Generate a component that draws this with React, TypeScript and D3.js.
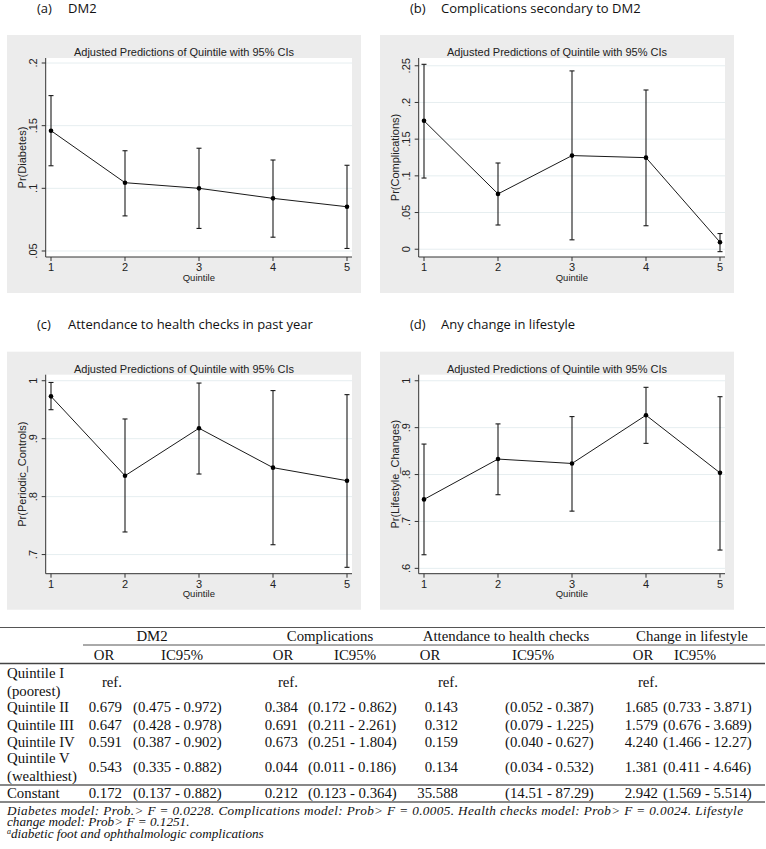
import React from 'react';
import * as d3 from 'd3';

// ---------- chart data ----------
const quintiles = [1, 2, 3, 4, 5];

const dm2Est = [0.146, 0.1045, 0.1, 0.092, 0.0853];
const dm2Lo = [0.118, 0.078, 0.068, 0.061, 0.052];
const dm2Hi = [0.174, 0.13, 0.132, 0.1226, 0.1184];
const dm2Ticks = [0.05, 0.1, 0.15, 0.2];
const dm2Domain = [0.0452, 0.204];

const compEst = [0.175, 0.0754, 0.1276, 0.1248, 0.0096];
const compLo = [0.097, 0.033, 0.0128, 0.032, -0.0033];
const compHi = [0.252, 0.1175, 0.243, 0.217, 0.0214];
const compTicks = [0, 0.05, 0.1, 0.15, 0.2, 0.25];
const compDomain = [-0.0106, 0.2606];

const checksEst = [0.973, 0.836, 0.918, 0.85, 0.8275];
const checksLo = [0.95, 0.739, 0.839, 0.717, 0.678];
const checksHi = [0.997, 0.934, 0.996, 0.983, 0.976];
const checksTicks = [0.7, 0.8, 0.9, 1];
const checksDomain = [0.667, 1.0104];

const lifeEst = [0.747, 0.833, 0.8236, 0.9265, 0.8036];
const lifeLo = [0.629, 0.757, 0.722, 0.8665, 0.639];
const lifeHi = [0.865, 0.908, 0.9236, 0.986, 0.966];
const lifeTicks = [0.6, 0.7, 0.8, 0.9, 1];
const lifeDomain = [0.5886, 1.0129];

const panelLetters = ['(a)', '(b)', '(c)', '(d)'];
const panelNames = ['DM2', 'Complications secondary to DM2', 'Attendance to health checks in past year', 'Any change in lifestyle'];
const yTitles = ['Pr(Diabetes)', 'Pr(Complications)', 'Pr(Periodic_Controls)', 'Pr(Lifestyle_Changes)'];
const chartTitle = 'Adjusted Predictions of Quintile with 95% CIs';
const xTitle = 'Quintile';

// ---------- table data ----------
const groupHeaders = ['DM2', 'Complications', 'Attendance to health checks', 'Change in lifestyle'];
const rowLabels = [['Quintile I', '(poorest)'], ['Quintile II'], ['Quintile III'], ['Quintile IV'], ['Quintile V', '(wealthiest)'], ['Constant']];
const dm2OR = ['ref.', '0.679', '0.647', '0.591', '0.543', '0.172'];
const dm2CI = ['', '(0.475 - 0.972)', '(0.428 - 0.978)', '(0.387 - 0.902)', '(0.335 - 0.882)', '(0.137 - 0.882)'];
const compOR = ['ref.', '0.384', '0.691', '0.673', '0.044', '0.212'];
const compCI = ['', '(0.172 - 0.862)', '(0.211 - 2.261)', '(0.251 - 1.804)', '(0.011 - 0.186)', '(0.123 - 0.364)'];
const checksOR = ['ref.', '0.143', '0.312', '0.159', '0.134', '35.588'];
const checksCI = ['', '(0.052 - 0.387)', '(0.079 - 1.225)', '(0.040 - 0.627)', '(0.034 - 0.532)', '(14.51 - 87.29)'];
const lifeOR = ['ref.', '1.685', '1.579', '4.240', '1.381', '2.942'];
const lifeCI = ['', '(0.733 - 3.871)', '(0.676 - 3.689)', '(1.466 - 12.27)', '(0.411 - 4.646)', '(1.569 - 5.514)'];
const footLine1 = 'Diabetes model: Prob.> F = 0.0228. Complications model: Prob> F = 0.0005. Health checks model: Prob> F = 0.0024. Lifestyle';
const footLine2 = 'change model: Prob> F = 0.1251.';
const footLine3 = 'diabetic foot and ophthalmologic complications';

const sans = "'Liberation Sans', Arial, sans-serif";
const serif = "'Liberation Serif', 'Times New Roman', serif";
const labelFont = "'Open Sans', 'Noto Sans', sans-serif";

const fmtTick = (v: number) => (v === 0 ? '0' : v === 1 ? '1' : String(+v.toFixed(2)).replace(/^0\./, '.'));

type PanelProps = {
  gx: number; gy: number; idx: number;
  est: number[]; lo: number[]; hi: number[]; ticks: number[]; domain: number[];
};

function Panel({ gx, gy, idx, est, lo, hi, ticks, domain }: PanelProps) {
  const W = 354, H = 258;
  const box = { l: 38.7, r: 345, t: 23, b: 222 };
  const xs = d3.scaleLinear().domain([1, 5]).range([box.l + 5.3, box.r - 5]);
  const ys = d3.scaleLinear().domain(domain).range([box.b, box.t]);
  const line = d3.line<number>().x((_, i) => xs(quintiles[i])).y((d) => ys(d));
  const stroke = '#1a1a1a';
  return (
    <g transform={`translate(${gx},${gy})`}>
      <text x={30} y={-22.5} fontFamily={labelFont} fontSize={13} fill="#111">{panelLetters[idx]}</text>
      <text x={61} y={-22.5} fontFamily={labelFont} fontSize={13} fill="#111">{panelNames[idx]}</text>
      <rect x={0} y={0} width={W} height={H} fill="#ececec" />
      <rect x={box.l} y={box.t} width={box.r - box.l} height={box.b - box.t} fill="#ffffff" />
      {ticks.map((t) => (
        <line key={'g' + t} x1={box.l} x2={box.r} y1={ys(t)} y2={ys(t)} stroke="#e6eef0" strokeWidth={1} />
      ))}
      <text x={W / 2} y={21} textAnchor="middle" fontFamily={sans} fontSize={11} fill="#222">{chartTitle}</text>
      {/* axes */}
      <line x1={box.l} x2={box.l} y1={box.t} y2={box.b} stroke="#333" strokeWidth={1} />
      <line x1={box.l} x2={box.r} y1={box.b} y2={box.b} stroke="#333" strokeWidth={1} />
      {ticks.map((t) => (
        <g key={'t' + t}>
          <line x1={box.l - 4} x2={box.l} y1={ys(t)} y2={ys(t)} stroke="#333" />
          <text transform={`translate(${26},${ys(t)}) rotate(-90)`} textAnchor="middle" dominantBaseline="central"
            fontFamily={sans} fontSize={11} fill="#222">{fmtTick(t)}</text>
        </g>
      ))}
      {quintiles.map((q) => (
        <g key={'x' + q}>
          <line x1={xs(q)} x2={xs(q)} y1={box.b} y2={box.b + 4} stroke="#333" />
          <text x={xs(q)} y={236} textAnchor="middle" fontFamily={sans} fontSize={11} fill="#222">{q}</text>
        </g>
      ))}
      <text x={(box.l + box.r) / 2} y={245.5} textAnchor="middle" fontFamily={sans} fontSize={9.5} fill="#222">{xTitle}</text>
      <text transform={`translate(${14.5},${(box.t + box.b) / 2}) rotate(-90)`} textAnchor="middle" dominantBaseline="central"
        fontFamily={sans} fontSize={11} fill="#222">{yTitles[idx]}</text>
      {/* error bars */}
      {quintiles.map((q, i) => (
        <g key={'e' + q} stroke={stroke} strokeWidth={1.1}>
          <line x1={xs(q)} x2={xs(q)} y1={ys(lo[i])} y2={ys(hi[i])} />
          <line x1={xs(q) - 2.5} x2={xs(q) + 2.5} y1={ys(lo[i])} y2={ys(lo[i])} />
          <line x1={xs(q) - 2.5} x2={xs(q) + 2.5} y1={ys(hi[i])} y2={ys(hi[i])} />
        </g>
      ))}
      <path d={line(est) || ''} fill="none" stroke={stroke} strokeWidth={1} />
      {quintiles.map((q, i) => (
        <circle key={'c' + q} cx={xs(q)} cy={ys(est[i])} r={2.3} fill="#000" />
      ))}
    </g>
  );
}

function Table() {
  const rowY = [682, 707, 725, 742, 767, 793];
  const orRight = [122, 298, 458, 658];
  const ciLeft = [133, 308, 505, 663];
  const headerCenters = [152, 330, 506, 692];
  const orCenters = [104, 283, 430, 643];
  const ciCenters = [182, 355, 533, 695];
  const ors = [dm2OR, compOR, checksOR, lifeOR];
  const cis = [dm2CI, compCI, checksCI, lifeCI];
  const fs = 14.8;
  const t = { fontFamily: serif, fontSize: fs, fill: '#111', dominantBaseline: 'central' as const };
  return (
    <g>
      <line x1={0} x2={765} y1={627.5} y2={627.5} stroke="#555" strokeWidth={1} />
      <line x1={83} x2={765} y1={645} y2={645} stroke="#555" strokeWidth={1} />
      <line x1={0} x2={765} y1={663.5} y2={663.5} stroke="#444" strokeWidth={1.3} />
      <line x1={0} x2={765} y1={785} y2={785} stroke="#888" strokeWidth={2} />
      <line x1={0} x2={765} y1={802} y2={802} stroke="#888" strokeWidth={2} />
      {groupHeaders.map((h, i) => (
        <text key={h} x={headerCenters[i]} y={635.5} textAnchor="middle" {...t}>{h}</text>
      ))}
      {groupHeaders.map((h, i) => (
        <g key={'h' + h}>
          <text x={orCenters[i]} y={655} textAnchor="middle" {...t}>OR</text>
          <text x={ciCenters[i]} y={655} textAnchor="middle" {...t}>IC95%</text>
        </g>
      ))}
      {rowLabels.map((lab, r) => (
        <g key={'r' + r}>
          {lab.length === 2 ? (
            <>
              <text x={7} y={rowY[r] - 9} {...t}>{lab[0]}</text>
              <text x={7} y={rowY[r] + 9} {...t}>{lab[1]}</text>
            </>
          ) : (
            <text x={7} y={rowY[r]} {...t}>{lab[0]}</text>
          )}
          {ors.map((col, c) => (
            <text key={'o' + c} x={orRight[c]} y={rowY[r]} textAnchor="end" {...t}>{col[r]}</text>
          ))}
          {cis.map((col, c) => (
            <text key={'c' + c} x={ciLeft[c]} y={rowY[r]} {...t}>{col[r]}</text>
          ))}
        </g>
      ))}
      <g fontFamily={serif} fontStyle="italic" fontSize={13.2} fill="#111">
        <text x={7} y={814.5} textLength={736} lengthAdjust="spacing">{footLine1}</text>
        <text x={7} y={826}>{footLine2}</text>
        <text x={7} y={837.5}>
          <tspan fontSize={8} dy={-4}>a</tspan>
          <tspan dy={4}>{footLine3}</tspan>
        </text>
      </g>
    </g>
  );
}

export default function App() {
  return (
    <svg width={766} height={849} style={{ position: 'absolute', left: 0, top: 0, background: '#fff' }}>
      <rect width={766} height={849} fill="#fff" />
      <Panel gx={7} gy={35} idx={0} est={dm2Est} lo={dm2Lo} hi={dm2Hi} ticks={dm2Ticks} domain={dm2Domain} />
      <Panel gx={380} gy={35} idx={1} est={compEst} lo={compLo} hi={compHi} ticks={compTicks} domain={compDomain} />
      <Panel gx={7} gy={351.7} idx={2} est={checksEst} lo={checksLo} hi={checksHi} ticks={checksTicks} domain={checksDomain} />
      <Panel gx={380} gy={351.7} idx={3} est={lifeEst} lo={lifeLo} hi={lifeHi} ticks={lifeTicks} domain={lifeDomain} />
      <Table />
    </svg>
  );
}
